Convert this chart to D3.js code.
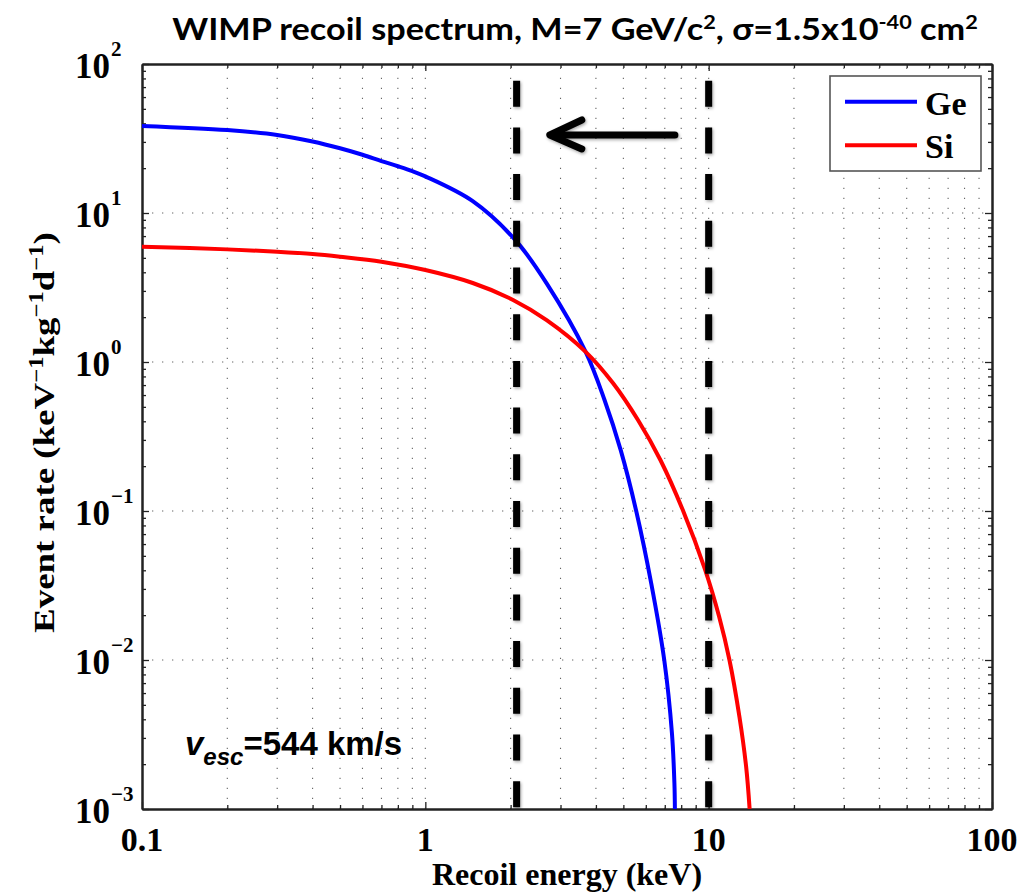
<!DOCTYPE html>
<html><head><meta charset="utf-8">
<script src="https://cdn.jsdelivr.net/npm/d3@7"></script>
<style>body{margin:0;background:#fff}</style>
</head><body><svg id="c" width="1022" height="892"></svg>
<script>
// ---- data ----
const geEnergy = [0.1,0.2,0.3,0.4,0.5,0.6,0.7,0.8,0.9,1.0,1.47,2.09,2.68,3.68,4.29,4.89,5.55,6.27,6.97,7.42,7.57,7.60];
const geRate   = [38.4,36.0,33.4,30.2,27.2,24.6,22.3,20.6,19.1,17.6,12.0,6.5,3.37,1.17,0.556,0.257,0.1,0.0327,0.01,0.00322,0.00149,0.001];
const siEnergy = [0.1,0.2,0.3,0.4,0.5,0.7,1.0,1.47,2.04,2.68,3.68,4.6,5.63,6.755,8.13,9.72,10.89,11.84,12.84,13.56,13.95];
const siRate   = [5.94,5.70,5.50,5.31,5.09,4.71,4.14,3.39,2.61,1.91,1.17,0.72,0.408,0.220,0.1,0.0402,0.0195,0.01,0.00416,0.00192,0.001];
const seriesNames = ["Ge","Si"];
const seriesColors = ["#0000ff","#ff0000"];
const xTickValues = [0.1,1,10,100];
const xTickLabels = ["0.1","1","10","100"];
const yTickValues = [1e-3,1e-2,1e-1,1,10,100];
const yTickExponents = ["\u22123","\u22122","\u22121","0","1","2"];
const thresholdEnergies = [2.1, 10];
const arrowFrom = [7.6, 33.4];
const arrowTo = [2.75, 33.4];

const svg = d3.select("#c");
const L=142, R=992, T=64, B=809;
const x = d3.scaleLog().domain([0.1,100]).range([L,R]);
const y = d3.scaleLog().domain([1e-3,1e2]).range([B,T]);

const defs = svg.append("defs");
defs.append("clipPath").attr("id","clip").append("rect").attr("x",L).attr("y",T).attr("width",R-L).attr("height",B-T);
const f = defs.append("filter").attr("id","sh").attr("filterUnits","userSpaceOnUse")
  .attr("x",0).attr("y",0).attr("width",1022).attr("height",892);
f.append("feDropShadow").attr("dx",1).attr("dy",1.5).attr("stdDeviation",1.5).attr("flood-color","#000").attr("flood-opacity",0.35);

// minor tick positions
const xMinor = [], yMinor = [];
[0.1,1,10].forEach(d=>{for(let k=2;k<=9;k++) xMinor.push(d*k);});
[1e-3,1e-2,1e-1,1,10].forEach(d=>{for(let k=2;k<=9;k++) yMinor.push(d*k);});

// grid
const grid = svg.append("g").attr("stroke","#666").attr("stroke-width",1.1).attr("stroke-dasharray","1.3,8.7");
grid.selectAll(".gx").data(xMinor.concat([1,10])).join("line")
  .attr("x1",d=>x(d)).attr("x2",d=>x(d)).attr("y1",B).attr("y2",T);
grid.selectAll(".gy").data([1e-2,1e-1,1,10]).join("line")
  .attr("y1",d=>y(d)).attr("y2",d=>y(d)).attr("x1",L).attr("x2",R);

// axes with inward ticks on all four sides
function addAxis(gen, tr, vals, size){
  const g = svg.append("g").attr("transform",tr)
    .call(gen.tickValues(vals).tickSize(-size).tickSizeOuter(0).tickFormat(""));
  g.selectAll("line").attr("stroke","#222").attr("stroke-width",1.3);
  g.select(".domain").attr("stroke","#222").attr("stroke-width",2);
  return g;
}
addAxis(d3.axisBottom(x), `translate(0,${B})`, xMinor, 4);
addAxis(d3.axisBottom(x), `translate(0,${B})`, xTickValues, 7);
addAxis(d3.axisTop(x), `translate(0,${T})`, xMinor, 4);
addAxis(d3.axisTop(x), `translate(0,${T})`, xTickValues, 7);
addAxis(d3.axisLeft(y), `translate(${L},0)`, yMinor, 4);
addAxis(d3.axisLeft(y), `translate(${L},0)`, yTickValues, 7);
addAxis(d3.axisRight(y), `translate(${R},0)`, yMinor, 4);
addAxis(d3.axisRight(y), `translate(${R},0)`, yTickValues, 7);

// tick labels
const serif = "'Liberation Serif','Times New Roman',serif";
svg.append("g").selectAll("text").data(xTickValues).join("text")
  .attr("x",d=>x(d)).attr("y",851).attr("text-anchor","middle")
  .attr("font-family",serif).attr("font-weight","bold").attr("font-size",34)
  .text((d,i)=>xTickLabels[i]);
const yl = svg.append("g").selectAll("g").data(yTickValues).join("g");
yl.append("text").attr("x",110).attr("y",d=>y(d)+14).attr("text-anchor","end")
  .attr("font-family",serif).attr("font-weight","bold").attr("font-size",35).text("10");
yl.append("text").attr("x",111).attr("y",d=>y(d)-8)
  .attr("font-family",serif).attr("font-weight","bold").attr("font-size",21)
  .text((d,i)=>yTickExponents[i]);

// curves
const line = d3.line().x(d=>x(d[0])).y(d=>y(d[1])).curve(d3.curveCatmullRom.alpha(0.5));
const series = [d3.zip(geEnergy,geRate), d3.zip(siEnergy,siRate)];
const cg = svg.append("g").attr("clip-path","url(#clip)");
series.forEach((s,i)=>{
  cg.append("path").datum(s).attr("d",line).attr("fill","none")
    .attr("stroke",seriesColors[i]).attr("stroke-width",4).attr("stroke-linejoin","round");
});

// threshold dashed lines
cg.selectAll(".th").data(thresholdEnergies).join("line")
  .attr("x1",d=>x(d)).attr("x2",d=>x(d)).attr("y1",T).attr("y2",B)
  .attr("stroke","#000").attr("stroke-width",7).attr("stroke-dasharray","26,20.7").attr("stroke-dashoffset",30)
  .attr("filter","url(#sh)");

// arrow
const ag = svg.append("g").attr("stroke","#000").attr("stroke-width",7).attr("stroke-linecap","round")
  .attr("stroke-linejoin","round").attr("fill","none").attr("filter","url(#sh)");
const ax1=x(arrowFrom[0]), ay=y(arrowFrom[1]), ax2=x(arrowTo[0]);
ag.append("line").attr("x1",ax1).attr("y1",ay).attr("x2",ax2+3).attr("y2",ay);
ag.append("path").attr("d",`M${ax2+32},${ay-15}L${ax2},${ay}L${ax2+32},${ay+14}`);

// legend
const lg = svg.append("g");
lg.append("rect").attr("x",830).attr("y",76).attr("width",151).attr("height",95)
  .attr("fill","#fff").attr("stroke","#555").attr("stroke-width",1.6);
seriesNames.forEach((n,i)=>{
  const yy = 101.7 + i*43.5;
  lg.append("line").attr("x1",845).attr("x2",917).attr("y1",yy).attr("y2",yy)
    .attr("stroke",seriesColors[i]).attr("stroke-width",4);
  lg.append("text").attr("x",925).attr("y",yy+13).attr("font-family",serif)
    .attr("font-weight","bold").attr("font-size",34).text(n);
});

// fit helper
function fitWidth(sel, target, cx, cy){
  const w = sel.node().getBBox().width;
  sel.attr("transform",`translate(${cx},${cy}) scale(${target/w},1) translate(${-cx},${-cy})`);
}

// title
const title = svg.append("text").attr("x",575).attr("y",40).attr("text-anchor","middle")
  .attr("font-family","Lato,'Open Sans',sans-serif").attr("font-weight","bold").attr("font-size",30);
title.append("tspan").text("WIMP recoil spectrum, M=7 GeV/c");
title.append("tspan").attr("font-size",19).attr("dy",-11).text("2");
title.append("tspan").attr("dy",11).text(", \u03c3=1.5x10");
title.append("tspan").attr("font-size",19).attr("dy",-11).text("-40");
title.append("tspan").attr("dy",11).text(" cm");
title.append("tspan").attr("font-size",19).attr("dy",-11).text("2");
fitWidth(title, 806, 575, 40);

// y-axis label
const ylab = svg.append("text").attr("text-anchor","middle")
  .attr("transform","translate(53.5,432.5) rotate(-90)")
  .attr("font-family",serif).attr("font-weight","bold").attr("font-size",30);
ylab.append("tspan").text("Event rate (keV");
ylab.append("tspan").attr("font-size",20).attr("dy",-11).text("\u22121");
ylab.append("tspan").attr("dy",11).text("kg");
ylab.append("tspan").attr("font-size",20).attr("dy",-11).text("\u22121");
ylab.append("tspan").attr("dy",11).text("d");
ylab.append("tspan").attr("font-size",20).attr("dy",-11).text("\u22121");
ylab.append("tspan").attr("dy",11).text(")");
{
  const w = ylab.node().getBBox().width;
  ylab.attr("transform",`translate(53.5,432.5) rotate(-90) scale(${401/w},1)`);
}

// x-axis label
svg.append("text").attr("x",567).attr("y",885).attr("text-anchor","middle")
  .attr("font-family",serif).attr("font-weight","bold").attr("font-size",32)
  .text("Recoil energy (keV)");

// v_esc annotation
const ve = svg.append("text").attr("x",185).attr("y",755)
  .attr("font-family","'Liberation Sans',Arial,sans-serif").attr("font-weight","bold").attr("font-size",33);
ve.append("tspan").attr("font-style","italic").text("v");
ve.append("tspan").attr("font-style","italic").attr("font-size",24).attr("dy",10).text("esc");
ve.append("tspan").attr("dy",-10).text("=544 km/s");
</script></body></html>
